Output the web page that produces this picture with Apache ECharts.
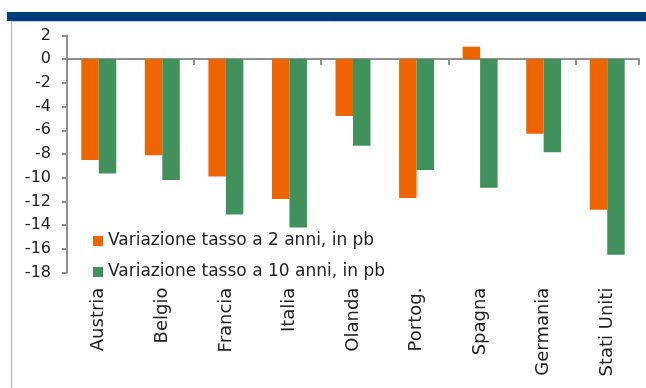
<!DOCTYPE html>
<html>
<head>
<meta charset="utf-8">
<script src="https://cdn.jsdelivr.net/npm/echarts@6/dist/echarts.min.js"></script>
<style>
  html, body { margin: 0; padding: 0; background: #fff; }
  #chart { width: 646px; height: 388px; }
</style>
</head>
<body>
<div id="chart"></div>
<script>
const countries = ['Austria', 'Belgio', 'Francia', 'Italia', 'Olanda', 'Portog.', 'Spagna', 'Germania', 'Stati Uniti'];
const twoYear = [-8.5, -8.1, -9.9, -11.8, -4.8, -11.7, 1.05, -6.3, -12.7];
const tenYear = [-9.65, -10.2, -13.1, -14.2, -7.3, -9.35, -10.85, -7.85, -16.5];
const seriesNames = ['Variazione tasso a 2 anni, in pb', 'Variazione tasso a 10 anni, in pb'];

const font = '"DejaVu Sans", sans-serif';
const axisGray = '#8f8f8f';
const textColor = '#222';

const chart = echarts.init(document.getElementById('chart'));

chart.setOption({
  animation: false,
  textStyle: { fontFamily: font },
  graphic: [
    { type: 'rect', shape: { x: 7, y: 12, width: 639, height: 9 }, style: { fill: '#003d7c' } },
    { type: 'line', shape: { x1: 11, y1: 21.5, x2: 646, y2: 21.5 }, style: { stroke: '#cfcfcf', lineWidth: 1 } },
    { type: 'line', shape: { x1: 11.5, y1: 21, x2: 11.5, y2: 388 }, style: { stroke: '#c4c4c4', lineWidth: 1.5 } }
  ],
  grid: { left: 67, right: 7, top: 35.4, bottom: 115.4 },
  legend: {
    orient: 'vertical',
    left: 88,
    top: 227,
    itemWidth: 10,
    itemHeight: 10,
    itemGap: 13,
    icon: 'rect',
    data: seriesNames,
    textStyle: { fontSize: 17, color: textColor, fontFamily: font, lineHeight: 18 }
  },
  xAxis: [
    {
      type: 'category',
      data: countries,
      position: 'bottom',
      axisLine: { show: false, onZero: false },
      axisTick: { show: false },
      axisLabel: { rotate: 90, margin: 15, fontSize: 18, color: textColor, fontFamily: font }
    },
    {
      type: 'category',
      data: countries,
      position: 'bottom',
      axisLine: { show: true, onZero: true, lineStyle: { color: axisGray, width: 2 } },
      axisTick: { show: true, length: 6, lineStyle: { color: axisGray, width: 2 } },
      axisLabel: { show: false }
    }
  ],
  yAxis: {
    type: 'value',
    min: -18,
    max: 2,
    interval: 2,
    splitLine: { show: false },
    axisLine: { show: true, lineStyle: { color: axisGray, width: 2 } },
    axisTick: { show: true, length: 5, lineStyle: { color: axisGray, width: 2 } },
    axisLabel: { margin: 16, fontSize: 16, color: textColor, fontFamily: font }
  },
  series: [
    {
      name: seriesNames[0],
      type: 'bar',
      data: twoYear,
      barGap: '0%',
      barCategoryGap: '45%',
      itemStyle: { color: '#ee6500' }
    },
    {
      name: seriesNames[1],
      type: 'bar',
      data: tenYear,
      barGap: '0%',
      barCategoryGap: '45%',
      itemStyle: { color: '#41915c' }
    }
  ]
});
</script>
</body>
</html>
